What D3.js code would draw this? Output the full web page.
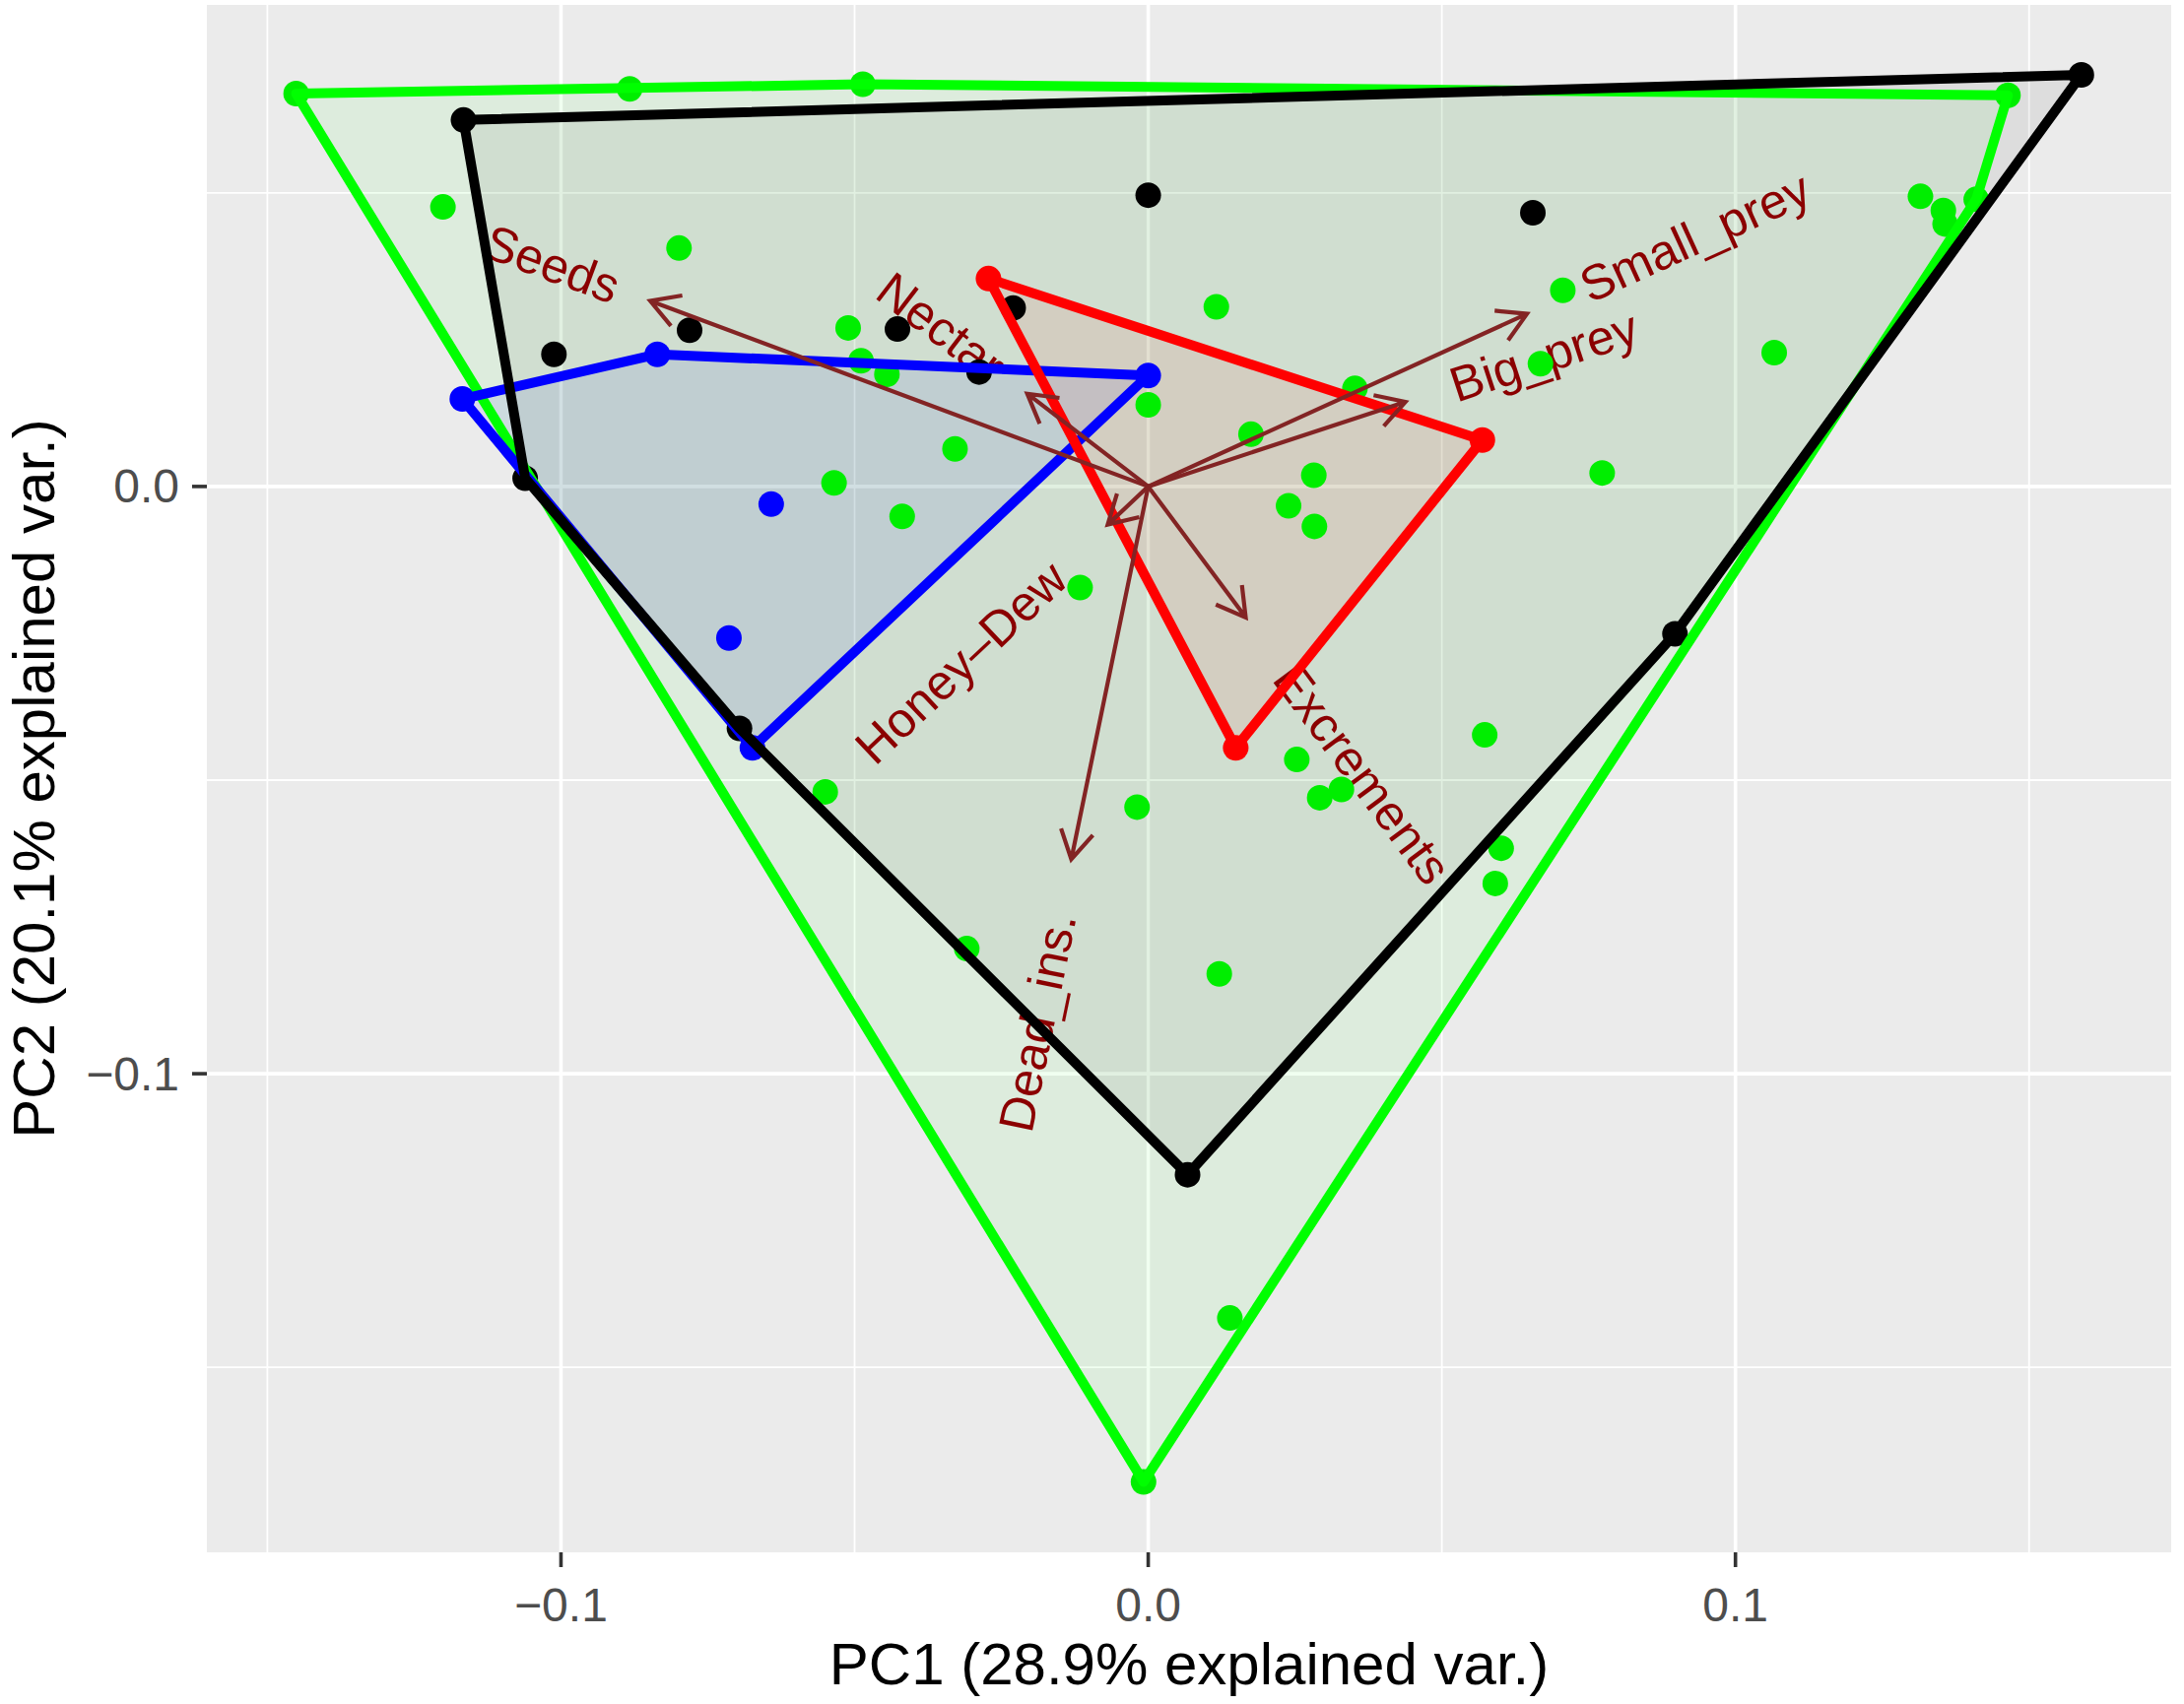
<!DOCTYPE html>
<html>
<head>
<meta charset="utf-8">
<script src="https://d3js.org/d3.v7.min.js"></script>
<style>
	body { margin: 0; background: #ffffff; }
	svg { display: block; }
	text { font-family: 'Liberation Sans', Arial, Helvetica, sans-serif; }
</style>
</head>
<body>
<script>
// PCA scores per group (PC1, PC2)
const greenPts = [
	[-0.1451, 0.0669], [-0.0883, 0.0677], [-0.0486, 0.0685], [0.1464, 0.0666], [0.1410, 0.0489],
	[0.1315, 0.0494], [0.1354, 0.0470], [0.1357, 0.0447], [-0.1201, 0.0476], [-0.0799, 0.0406],
	[-0.0511, 0.0270], [-0.0489, 0.0214], [-0.0445, 0.0191], [-0.0329, 0.0064], [-0.0535, 0.0006],
	[-0.0419, -0.0051], [-0.0116, -0.0172], [-0.0550, -0.0520], [0.0116, 0.0306], [0.0706, 0.0334],
	[0.0668, 0.0209], [0.0000, 0.0139], [0.0352, 0.0167], [0.0175, 0.0089], [0.0773, 0.0023],
	[0.0282, 0.0019], [0.0239, -0.0033], [0.0283, -0.0068], [0.1066, 0.0228], [0.0573, -0.0423],
	[0.0253, -0.0465], [0.0292, -0.0530], [0.0329, -0.0516], [-0.0019, -0.0546], [0.0601, -0.0616],
	[0.0591, -0.0676], [-0.0309, -0.0787], [0.0121, -0.0830], [0.0139, -0.1416], [-0.0008, -0.1695]
];
const bluePts = [
	[-0.1168, 0.0149], [-0.0836, 0.0225], [0.0000, 0.0189], [-0.0674, -0.0445], [-0.0642, -0.0030],
	[-0.0714, -0.0258]
];
const blackPts = [
	[-0.1166, 0.0624], [0.1589, 0.0701], [0.0897, -0.0251], [0.0067, -0.1172], [-0.0696, -0.0412],
	[-0.1061, 0.0014], [-0.1012, 0.0225], [-0.0781, 0.0266], [-0.0427, 0.0268], [-0.0288, 0.0195],
	[-0.0230, 0.0304], [0.0000, 0.0496], [0.0655, 0.0466]
];
const redPts = [
	[-0.0272, 0.0354], [0.0569, 0.0079], [0.0149, -0.0445]
];

// Variable loadings (arrow tips)
const varNames = ['Seeds', 'Nectar', 'Small_prey', 'Big_prey', 'Honey\u2013Dew', 'Excrements', 'Dead_ins.'];
const varPC1 = [-0.0848, -0.0206, 0.0645, 0.0438, -0.0069, 0.0166, -0.0131];
const varPC2 = [0.0316, 0.0158, 0.0294, 0.0144, -0.0065, -0.0223, -0.0635];

// Axes
const xTicks = [-0.1, 0.0, 0.1];
const yTicks = [-0.1, 0.0];
const xMinor = [-0.15, -0.05, 0.05, 0.15];
const yMinor = [-0.15, -0.05, 0.05];
const xTitle = 'PC1 (28.9% explained var.)';
const yTitle = 'PC2 (20.1% explained var.)';

const W = 2217, H = 1730;
const panel = { left: 210, right: 2204, top: 5, bottom: 1576 };

const x = d3.scaleLinear().domain([-0.1603, 0.1742]).range([panel.left, panel.right]);
const y = d3.scaleLinear().domain([-0.1815, 0.0820]).range([panel.bottom, panel.top]);

const svg = d3.select('body').append('svg')
	.attr('width', W)
	.attr('height', H);

// Panel and grid
svg.append('rect')
	.attr('x', panel.left).attr('y', panel.top)
	.attr('width', panel.right - panel.left).attr('height', panel.bottom - panel.top)
	.attr('fill', '#ebebeb');

const grid = svg.append('g').attr('stroke', '#ffffff');
grid.selectAll('line.xminor').data(xMinor).join('line')
	.attr('x1', d => x(d)).attr('x2', d => x(d))
	.attr('y1', panel.top).attr('y2', panel.bottom)
	.attr('stroke-width', 1.8);
grid.selectAll('line.yminor').data(yMinor).join('line')
	.attr('y1', d => y(d)).attr('y2', d => y(d))
	.attr('x1', panel.left).attr('x2', panel.right)
	.attr('stroke-width', 1.8);
grid.selectAll('line.xmajor').data(xTicks).join('line')
	.attr('x1', d => x(d)).attr('x2', d => x(d))
	.attr('y1', panel.top).attr('y2', panel.bottom)
	.attr('stroke-width', 3.6);
grid.selectAll('line.ymajor').data(yTicks).join('line')
	.attr('y1', d => y(d)).attr('y2', d => y(d))
	.attr('x1', panel.left).attr('x2', panel.right)
	.attr('stroke-width', 3.6);

// Clip everything in the panel
svg.append('defs').append('clipPath').attr('id', 'panel-clip')
	.append('rect')
	.attr('x', panel.left).attr('y', panel.top)
	.attr('width', panel.right - panel.left).attr('height', panel.bottom - panel.top);
const plot = svg.append('g').attr('clip-path', 'url(#panel-clip)');

const groups = [
	{ 'pts': greenPts, 'colour': '#00ff00', 'dot': '#00ee00', 'alpha': 0.06 },
	{ 'pts': bluePts, 'colour': '#0000ff', 'dot': '#0000ff', 'alpha': 0.07 },
	{ 'pts': blackPts, 'colour': '#000000', 'dot': '#000000', 'alpha': 0.06 },
	{ 'pts': redPts, 'colour': '#ff0000', 'dot': '#ff0000', 'alpha': 0.07 }
];
groups.forEach(g => {
	g.hull = d3.polygonHull(g.pts.map(p => [x(p[0]), y(p[1])]));
});
const hullPath = g => 'M' + g.hull.map(p => p.join(',')).join('L') + 'Z';
const vars = varNames.map((name, i) => ({ 'name': name, 'px': varPC1[i], 'py': varPC2[i] }));

// Hull fills (translucent), under everything else
plot.append('g').selectAll('path').data(groups).join('path')
	.attr('d', hullPath)
	.attr('fill', g => g.colour)
	.attr('fill-opacity', g => g.alpha)
	.attr('stroke', 'none');

// Variable names, placed like ggbiplot does (angle along the arrow, hjust pushed outward)
const varAdjust = 1.5;
const labels = plot.append('g').selectAll('text').data(vars).join('text')
	.attr('transform', d => {
		const angle = Math.atan(d.py / d.px) * 180 / Math.PI;
		return `translate(${x(d.px)},${y(d.py)}) rotate(${-angle})`;
	})
	.attr('fill', '#8b0000')
	.attr('font-size', 50)
	.attr('dominant-baseline', 'central')
	.text(d => d.name);

labels.attr('x', function(d) {
	const hjust = (1 - varAdjust * Math.sign(d.px)) / 2;
	return -hjust * this.getComputedTextLength();
});

// Points
const pointData = groups.flatMap(g => g.pts.map(p => ({ 'p': p, 'dot': g.dot })));
plot.append('g').selectAll('circle').data(pointData).join('circle')
	.attr('cx', d => x(d.p[0]))
	.attr('cy', d => y(d.p[1]))
	.attr('r', 13)
	.attr('fill', d => d.dot);

// Hull outlines
plot.append('g').selectAll('path').data(groups).join('path')
	.attr('d', hullPath)
	.attr('fill', 'none')
	.attr('stroke', g => g.colour)
	.attr('stroke-width', 10)
	.attr('stroke-linejoin', 'round');

// Loading arrows
const headLen = 33;
const headAngle = Math.PI / 6;

plot.append('g')
	.attr('stroke', '#832424')
	.attr('stroke-width', 4.2)
	.attr('fill', 'none')
	.selectAll('path').data(vars).join('path')
	.attr('d', d => {
		const x0 = x(0), y0 = y(0), x1 = x(d.px), y1 = y(d.py);
		const a = Math.atan2(y1 - y0, x1 - x0);
		const h1 = [x1 - headLen * Math.cos(a - headAngle), y1 - headLen * Math.sin(a - headAngle)];
		const h2 = [x1 - headLen * Math.cos(a + headAngle), y1 - headLen * Math.sin(a + headAngle)];
		return `M${x0},${y0}L${x1},${y1}M${h1[0]},${h1[1]}L${x1},${y1}L${h2[0]},${h2[1]}`;
	});

// Axes ticks and labels
const axisG = svg.append('g');
axisG.selectAll('line.xt').data(xTicks).join('line')
	.attr('x1', d => x(d)).attr('x2', d => x(d))
	.attr('y1', panel.bottom).attr('y2', panel.bottom + 15)
	.attr('stroke', '#333333').attr('stroke-width', 3.6);
axisG.selectAll('line.yt').data(yTicks).join('line')
	.attr('y1', d => y(d)).attr('y2', d => y(d))
	.attr('x1', panel.left - 15).attr('x2', panel.left)
	.attr('stroke', '#333333').attr('stroke-width', 3.6);

const fmt = v => d3.format('.1f')(v).replace('-', '\u2212');

axisG.selectAll('text.xl').data(xTicks).join('text')
	.attr('x', d => x(d))
	.attr('y', 1646)
	.attr('text-anchor', 'middle')
	.attr('font-size', 48)
	.attr('fill', '#4d4d4d')
	.text(fmt);

axisG.selectAll('text.yl').data(yTicks).join('text')
	.attr('x', 182)
	.attr('y', d => y(d))
	.attr('text-anchor', 'end')
	.attr('dominant-baseline', 'central')
	.attr('font-size', 48)
	.attr('fill', '#4d4d4d')
	.text(fmt);

svg.append('text')
	.attr('x', (panel.left + panel.right) / 2)
	.attr('y', 1710)
	.attr('text-anchor', 'middle')
	.attr('font-size', 60)
	.attr('fill', '#000000')
	.text(xTitle);

svg.append('text')
	.attr('transform', `translate(55,${(panel.top + panel.bottom) / 2}) rotate(-90)`)
	.attr('text-anchor', 'middle')
	.attr('font-size', 60)
	.attr('fill', '#000000')
	.text(yTitle);
</script>
</body>
</html>
